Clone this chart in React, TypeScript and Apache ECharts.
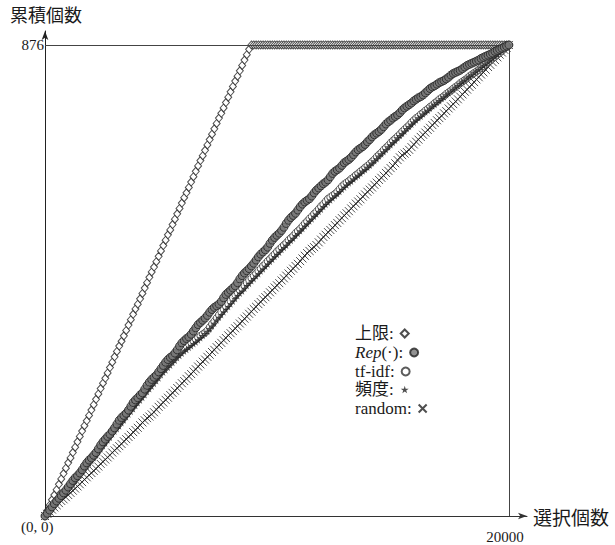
import React, { useEffect, useRef } from "react";
import * as echarts from "echarts";

// Cumulative count of relevant items (y) against number of selected items (x),
// sampled every STEP selections from 0 to 20000.
const STEP = 100;
const X_END = 20000;
const Y_TOTAL = 876;

const seriesNames = ["上限", "Rep(·)", "tf-idf", "頻度", "random"];

const upperBound = [
  0, 10, 20, 30, 39, 49, 59, 69, 79, 89,
  99, 108, 118, 128, 138, 148, 158, 168, 177, 187,
  197, 207, 217, 227, 237, 247, 256, 266, 276, 286,
  296, 306, 316, 325, 335, 345, 355, 365, 375, 385,
  394, 404, 414, 424, 434, 444, 454, 463, 473, 483,
  493, 503, 513, 523, 532, 542, 552, 562, 572, 582,
  592, 601, 611, 621, 631, 641, 651, 661, 670, 680,
  690, 700, 710, 720, 730, 740, 749, 759, 769, 779,
  789, 799, 809, 818, 828, 838, 848, 858, 868, 876,
  876, 876, 876, 876, 876, 876, 876, 876, 876, 876,
  876, 876, 876, 876, 876, 876, 876, 876, 876, 876,
  876, 876, 876, 876, 876, 876, 876, 876, 876, 876,
  876, 876, 876, 876, 876, 876, 876, 876, 876, 876,
  876, 876, 876, 876, 876, 876, 876, 876, 876, 876,
  876, 876, 876, 876, 876, 876, 876, 876, 876, 876,
  876, 876, 876, 876, 876, 876, 876, 876, 876, 876,
  876, 876, 876, 876, 876, 876, 876, 876, 876, 876,
  876, 876, 876, 876, 876, 876, 876, 876, 876, 876,
  876, 876, 876, 876, 876, 876, 876, 876, 876, 876,
  876, 876, 876, 876, 876, 876, 876, 876, 876, 876,
  876,
];

const repScore = [
  0, 5, 11, 17, 23, 28, 33, 38, 43, 48, 54,
  60, 66, 71, 75, 80, 86, 93, 99, 104, 108,
  113, 118, 125, 132, 138, 143, 148, 152, 158, 164,
  171, 178, 183, 187, 191, 197, 204, 211, 216, 220,
  225, 229, 236, 243, 249, 254, 258, 262, 268, 274,
  280, 286, 291, 295, 298, 303, 309, 316, 322, 326,
  330, 333, 338, 344, 350, 356, 360, 364, 368, 373,
  379, 384, 388, 391, 394, 399, 406, 412, 416, 420,
  424, 428, 434, 441, 447, 452, 456, 460, 465, 470,
  476, 482, 487, 491, 495, 500, 507, 513, 518, 522,
  526, 531, 537, 544, 550, 555, 559, 563, 569, 575,
  580, 584, 587, 590, 595, 601, 606, 610, 614, 618,
  621, 625, 631, 637, 641, 644, 647, 652, 657, 660,
  663, 667, 672, 677, 681, 684, 687, 691, 696, 700,
  705, 709, 712, 715, 719, 724, 729, 733, 736, 740,
  743, 746, 750, 755, 759, 762, 765, 768, 772, 775,
  778, 780, 783, 787, 791, 795, 798, 800, 803, 806,
  808, 810, 813, 816, 820, 823, 825, 827, 829, 832,
  835, 838, 840, 842, 844, 846, 848, 851, 853, 855,
  857, 859, 861, 864, 866, 868, 870, 872, 874, 876,
];

const tfidf = [
  0, 5, 11, 16, 21, 26, 31, 37, 42, 47, 52,
  57, 63, 68, 73, 79, 84, 90, 95, 101, 106,
  111, 116, 122, 128, 134, 139, 145, 151, 157, 162,
  167, 172, 177, 183, 189, 195, 201, 206, 211, 217,
  222, 227, 232, 238, 243, 248, 254, 259, 264, 270,
  275, 280, 285, 289, 294, 298, 302, 306, 310, 314,
  317, 320, 323, 326, 329, 332, 335, 338, 341, 345,
  351, 357, 362, 368, 374, 380, 385, 390, 395, 400,
  406, 412, 416, 420, 423, 428, 434, 439, 443, 447,
  451, 456, 460, 465, 469, 474, 478, 483, 487, 492,
  496, 500, 504, 508, 513, 517, 521, 526, 530, 534,
  539, 544, 548, 553, 557, 562, 566, 571, 576, 580,
  585, 590, 593, 596, 599, 603, 608, 613, 617, 620,
  623, 627, 630, 634, 637, 641, 644, 648, 651, 655,
  659, 663, 668, 672, 676, 681, 685, 689, 694, 698,
  702, 706, 710, 715, 719, 723, 727, 732, 736, 740,
  743, 747, 750, 754, 757, 761, 764, 768, 771, 775,
  778, 781, 785, 788, 791, 795, 798, 801, 805, 808,
  811, 814, 818, 821, 824, 827, 830, 834, 837, 840,
  844, 847, 851, 854, 858, 861, 865, 869, 872, 876,
];

const frequency = [
  0, 5, 10, 15, 20, 25, 30, 35, 40, 45, 50,
  55, 60, 65, 71, 76, 82, 87, 92, 98, 103,
  108, 113, 119, 124, 130, 135, 141, 146, 152, 157,
  162, 167, 173, 178, 184, 189, 194, 199, 205, 210,
  215, 220, 225, 231, 236, 241, 246, 251, 256, 262,
  267, 271, 276, 280, 285, 289, 294, 298, 302, 306,
  309, 313, 316, 320, 323, 327, 331, 335, 339, 343,
  348, 353, 358, 364, 369, 374, 379, 384, 389, 394,
  399, 404, 409, 414, 418, 423, 428, 432, 437, 441,
  446, 450, 455, 459, 464, 468, 473, 477, 482, 486,
  490, 495, 499, 503, 508, 512, 516, 521, 525, 530,
  534, 539, 543, 548, 552, 557, 561, 566, 570, 575,
  579, 583, 587, 591, 595, 599, 603, 607, 611, 615,
  619, 622, 626, 630, 633, 637, 641, 644, 648, 652,
  656, 660, 664, 669, 673, 677, 681, 686, 690, 694,
  698, 703, 707, 711, 715, 720, 724, 728, 732, 736,
  740, 743, 747, 751, 754, 758, 762, 765, 769, 772,
  776, 779, 783, 786, 790, 793, 797, 800, 804, 807,
  810, 814, 817, 820, 824, 827, 830, 834, 837, 840,
  844, 847, 851, 854, 858, 861, 865, 869, 872, 876,
];

const random = [
  0, 4, 8, 12, 16, 20, 24, 28, 31, 35, 39,
  43, 47, 51, 55, 59, 63, 68, 72, 76, 80,
  84, 88, 92, 97, 101, 105, 109, 113, 118, 122,
  126, 130, 134, 139, 143, 147, 151, 156, 160, 164,
  169, 174, 178, 182, 185, 189, 193, 198, 203, 207,
  211, 216, 220, 225, 229, 233, 238, 242, 247, 251,
  255, 260, 264, 269, 273, 278, 282, 287, 291, 296,
  300, 305, 309, 314, 318, 322, 327, 331, 336, 340,
  344, 349, 353, 358, 362, 367, 371, 376, 380, 385,
  389, 394, 398, 403, 407, 411, 416, 420, 425, 429,
  433, 438, 442, 447, 451, 456, 460, 465, 469, 474,
  479, 484, 489, 493, 497, 500, 504, 509, 514, 519,
  523, 528, 532, 536, 541, 545, 550, 554, 559, 563,
  567, 572, 576, 581, 585, 589, 594, 598, 603, 607,
  611, 616, 620, 625, 629, 633, 638, 642, 647, 651,
  656, 662, 667, 671, 674, 677, 681, 686, 691, 696,
  700, 705, 709, 713, 718, 722, 727, 731, 736, 740,
  744, 749, 753, 758, 762, 766, 771, 775, 780, 784,
  789, 793, 798, 802, 807, 812, 816, 821, 825, 830,
  835, 839, 844, 848, 853, 858, 862, 867, 871, 876,
];

const xTickValues = [X_END];
const yTickValues = [Y_TOTAL];

const SERIF = "'Liberation Serif', 'DejaVu Serif', 'Noto Sans CJK JP', serif";
const CJK = "'Noto Sans CJK JP', sans-serif";
const INK = "#1a1a1a";

const STAR = "path://M50,0L61,35L98,35L68,57L79,91L50,70L21,91L32,57L2,35L39,35Z";
const CROSS = "path://M0,0L10,10M10,0L0,10";

// Key rows, top to bottom, drawn as one single-entry legend per row so that
// every label starts at the same x with its marker right after the colon.
const keyRowTops = [325, 344, 363, 381, 400];

const toPoints = (vals: number[]) => vals.map((v, i) => [i * STEP, v]);

export default function App() {
  const ref = useRef<HTMLDivElement>(null);

  useEffect(() => {
    if (!ref.current) return;
    const chart = echarts.init(ref.current, undefined, { renderer: "svg" });

    const frameStyle = { color: "#444", width: 1, type: "solid" as const };

    const legends = seriesNames.map((name, i) => ({
      orient: "horizontal",
      left: 355,
      top: keyRowTops[i],
      align: "right",
      itemWidth: 8,
      itemHeight: 8,
      padding: 0,
      selectedMode: false,
      data: [name],
      textStyle: {
        fontFamily: SERIF,
        fontSize: 17,
        lineHeight: 17,
        color: INK,
        padding: [0, 2, 0, 0],
        rich: {
          it: { fontFamily: SERIF, fontStyle: "italic", fontSize: 17, lineHeight: 17, color: INK },
        },
      },
      formatter: (n: string) => (n === "Rep(·)" ? "{it|Rep}(·):" : `${n}:`),
    }));

    chart.setOption({
      animation: false,
      backgroundColor: "#fff",
      grid: { left: 45, right: 88, top: 31, bottom: 29, containLabel: false },
      xAxis: {
        type: "value",
        min: 0,
        max: 20780,
        name: "選択個数",
        nameLocation: "end",
        nameGap: 6,
        nameTextStyle: { fontFamily: CJK, fontSize: 19, color: INK, verticalAlign: "middle", padding: [4, 0, 0, 0] },
        axisLine: {
          show: true,
          symbol: ["none", "arrow"],
          symbolSize: [5, 9],
          lineStyle: { color: "#333", width: 1 },
        },
        axisTick: { show: false },
        splitLine: { show: false },
        axisLabel: {
          customValues: xTickValues,
          formatter: (v: number) => String(v),
          fontFamily: SERIF,
          fontSize: 15,
          color: INK,
          margin: 13,
          padding: [0, 8, 0, 0],
        },
      },
      yAxis: {
        type: "value",
        min: 0,
        max: 902,
        name: "累積個数",
        nameLocation: "end",
        nameGap: 8,
        nameTextStyle: { fontFamily: CJK, fontSize: 18, color: INK, align: "center", padding: [0, 0, 0, 2] },
        axisLine: {
          show: true,
          symbol: ["none", "arrow"],
          symbolSize: [5, 9],
          lineStyle: { color: "#222", width: 1 },
        },
        axisTick: { show: false },
        splitLine: { show: false },
        axisLabel: {
          customValues: yTickValues,
          formatter: (v: number) => String(v),
          fontFamily: SERIF,
          fontSize: 15,
          color: INK,
          margin: 1,
        },
      },
      legend: legends,
      graphic: [
        {
          type: "text",
          left: 21,
          top: 519,
          style: { text: "(0, 0)", font: `15px ${SERIF}`, fill: INK },
        },
      ],
      series: [
        {
          name: "上限",
          type: "scatter",
          symbol: "diamond",
          symbolSize: [7, 8],
          itemStyle: { color: "#fff", borderColor: "#222", borderWidth: 1 },
          data: toPoints(upperBound),
          markLine: {
            silent: true,
            symbol: ["none", "none"],
            label: { show: false },
            lineStyle: frameStyle,
            data: [
              [{ coord: [0, Y_TOTAL] }, { coord: [X_END, Y_TOTAL] }],
              [{ coord: [X_END, 0] }, { coord: [X_END, Y_TOTAL] }],
            ],
          },
          z: 2,
        },
        {
          name: "random",
          type: "scatter",
          symbol: CROSS,
          symbolSize: 8,
          itemStyle: { color: "rgba(0,0,0,0)", borderColor: "#222", borderWidth: 1 },
          data: toPoints(random),
          z: 3,
        },
        {
          name: "tf-idf",
          type: "scatter",
          symbol: "circle",
          symbolSize: 7,
          itemStyle: { color: "#fff", borderColor: "#333", borderWidth: 1 },
          data: toPoints(tfidf),
          z: 4,
        },
        {
          name: "頻度",
          type: "scatter",
          symbol: STAR,
          symbolSize: 7,
          itemStyle: { color: "#222" },
          data: toPoints(frequency),
          z: 5,
        },
        {
          name: "Rep(·)",
          type: "scatter",
          symbol: "circle",
          symbolSize: 8,
          itemStyle: { color: "#777", borderColor: "#222", borderWidth: 1 },
          data: toPoints(repScore),
          z: 6,
        },
      ],
    });

    return () => chart.dispose();
  }, []);

  return (
    <div
      ref={ref}
      style={{ position: "fixed", left: 0, top: 0, width: 615, height: 545, background: "#fff" }}
    />
  );
}
